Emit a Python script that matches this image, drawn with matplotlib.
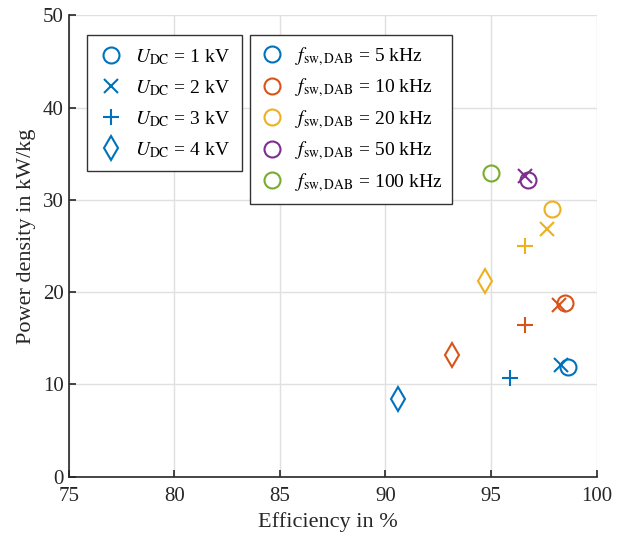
import matplotlib
matplotlib.use("Agg")
from matplotlib import pyplot as plt
from matplotlib.lines import Line2D

# efficiency (%) and power density (kW/kg), rows = f_sw, columns = U_DC
freqs = ['5', '10', '20', '50', '100']
colors = ['#0072BD', '#D95319', '#EDB120', '#7E2F8E', '#77AC30']
markers = ['o', 'x', '+', 'd']
voltages = ['1', '2', '3', '4']

eff_5k = [98.65, 98.3, 95.9, 90.6]
pd_5k = [11.9, 12.1, 10.65, 8.45]
eff_10k = [98.5, 98.2, 96.6, 93.15]
pd_10k = [18.8, 18.6, 16.45, 13.2]
eff_20k = [97.9, 97.65, 96.6, 94.7]
pd_20k = [29.05, 26.85, 25.0, 21.2]
eff_50k = [96.75, 96.6]
pd_50k = [32.1, 32.6]
eff_100k = [95.0]
pd_100k = [32.95]

eff = [eff_5k, eff_10k, eff_20k, eff_50k, eff_100k]
pd = [pd_5k, pd_10k, pd_20k, pd_50k, pd_100k]

plt.rcParams['font.family'] = 'Liberation Serif'
plt.rcParams['mathtext.fontset'] = 'stix'

dark = '#262626'
fig = plt.figure(figsize=(6.26, 5.36), dpi=100)
ax = fig.add_axes([0.110, 0.1106, 0.843, 0.861])

msize = {'o': 11.5, 'x': 9.5, '+': 11.5, 'd': 12.5}
for i in range(len(freqs)):
    for j in range(len(eff[i])):
        m = markers[j]
        ax.plot(eff[i][j], pd[i][j], linestyle='none', marker=m,
                markersize=msize[m], markerfacecolor='none',
                markeredgecolor=colors[i], markeredgewidth=1.5, zorder=3)

ax.set_xlim(75, 100)
ax.set_ylim(0, 50)
ax.set_xticks(range(75, 101, 5))
ax.set_yticks(range(0, 51, 10))
ax.grid(True, color='#e0e0e0', linewidth=1)
ax.set_axisbelow(True)
for s in ['top', 'right']:
    ax.spines[s].set_visible(False)
for s in ['left', 'bottom']:
    ax.spines[s].set_linewidth(1.2)
    ax.spines[s].set_color(dark)
ax.tick_params(direction='in', length=5, width=1.2, labelsize=15,
               colors=dark)
ax.tick_params(axis='x', pad=7.5)
ax.tick_params(axis='y', pad=3.5)
ax.set_xlabel('Efficiency in %', fontsize=16, color=dark)
ax.set_ylabel('Power density in kW/kg', fontsize=16, color=dark)
ax.xaxis.set_label_coords(0.49, -0.077)
ax.yaxis.set_label_coords(-0.062, 0.52)

h1 = [Line2D([], [], linestyle='none', marker=m, markersize=msize[m],
             markerfacecolor='none', markeredgecolor=colors[0],
             markeredgewidth=1.5) for m in markers]
l1 = [r'$U_{\mathrm{DC}}$ = %s kV' % v for v in voltages]
leg1 = ax.legend(h1, l1, loc='upper left', bbox_to_anchor=(0.0335, 0.9567),
                 borderaxespad=0, fancybox=False, edgecolor='#333333',
                 framealpha=1, fontsize=14, handlelength=1.3,
                 handletextpad=0.6, labelspacing=0.58, borderpad=0.6)
leg1.get_frame().set_linewidth(1.0)
ax.add_artist(leg1)

h2 = [Line2D([], [], linestyle='none', marker='o', markersize=11.5,
             markerfacecolor='none', markeredgecolor=c,
             markeredgewidth=1.5) for c in colors]
l2 = [r'$f_{\mathrm{sw,DAB}}$ = %s kHz' % f for f in freqs]
leg2 = ax.legend(h2, l2, loc='upper left', bbox_to_anchor=(0.343, 0.9567),
                 borderaxespad=0, fancybox=False, edgecolor='#333333',
                 framealpha=1, fontsize=14, handlelength=1.3,
                 handletextpad=0.5, labelspacing=0.45, borderpad=0.5)
leg2.get_frame().set_linewidth(1.0)

fig.savefig('out.png', dpi=100)
